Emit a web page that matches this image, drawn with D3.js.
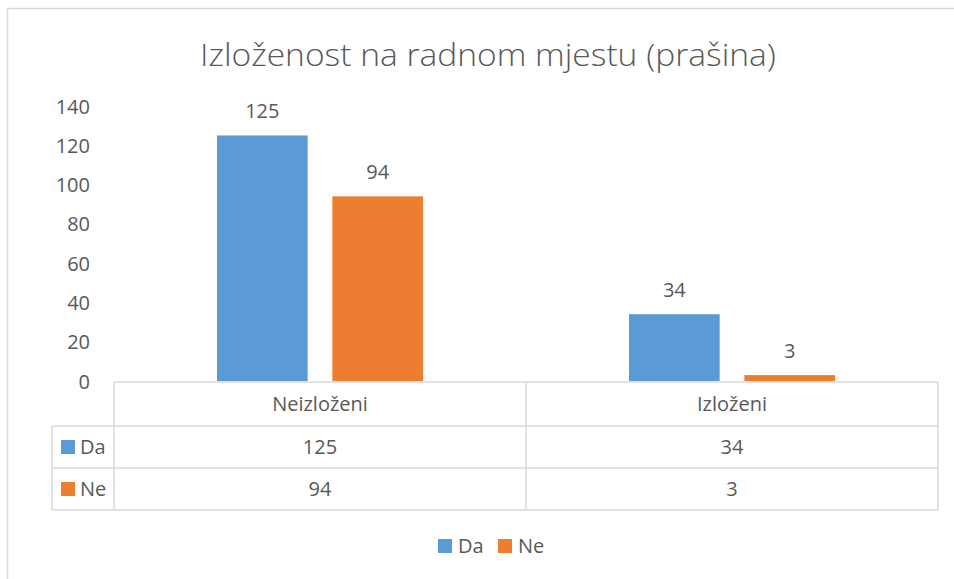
<!DOCTYPE html>
<html>
<head>
<meta charset="utf-8">
<script src="https://cdn.jsdelivr.net/npm/d3@7"></script>
<style>
	body { margin: 0; background: #fff; }
	svg text { font-family: "Open Sans", "Liberation Sans", sans-serif; fill: #595959; }
</style>
</head>
<body>
<svg id="canvas" width="954" height="579"></svg>
<script>
var categories = ["Neizloženi", "Izloženi"];
var seriesNames = ["Da", "Ne"];
var daValues = [125, 34];
var neValues = [94, 3];
var yTicks = [0, 20, 40, 60, 80, 100, 120, 140];
var colors = ["#5B9BD5", "#ED7D31"];

function draw(){
	var svg = d3.select("#canvas");
	var series = [daValues, neValues];
	var fs = 20;

	// chart frame (only left and top edges are visible in the picture)
	svg.append("path")
		.attr("d", "M7.5,600 L7.5,8.5 L960,8.5")
		.attr("fill", "none")
		.attr("stroke", "#D9D9D9")
		.attr("stroke-width", 1.5);

	svg.append("text")
		.attr("x", 488)
		.attr("y", 66)
		.attr("text-anchor", "middle")
		.attr("font-size", 31)
		.attr("font-weight", 300)
		.attr("textLength", 576)
		.attr("lengthAdjust", "spacingAndGlyphs")
		.text("Izloženost na radnom mjestu (prašina)");

	var left = 114, right = 938, top = 106, bottom = 381;

	var x = d3.scaleBand().domain(categories).range([left, right]);
	var inner = x.bandwidth() * 0.5;
	var xs = d3.scaleBand().domain(seriesNames)
		.range([(x.bandwidth() - inner) / 2, (x.bandwidth() + inner) / 2])
		.paddingInner(0.214);
	var y = d3.scaleLinear().domain([0, 140]).range([bottom, top]);

	var yAxis = d3.axisLeft(y).tickValues(yTicks).tickSize(0).tickPadding(0);
	var ag = svg.append("g")
		.attr("transform", "translate(" + 90 + ",0)")
		.call(yAxis);
	ag.select(".domain").remove();
	ag.selectAll("text")
		.attr("font-size", fs)
		.attr("fill", "#595959")
		.attr("font-family", null)
		.attr("dy", "0.35em");

	// bars
	series.forEach(function(vals, s){
		var g = svg.append("g");
		g.selectAll("rect")
			.data(vals)
			.enter()
			.append("rect")
			.attr("x", function(d, i){ return x(categories[i]) + xs(seriesNames[s]); })
			.attr("y", function(d){ return y(d); })
			.attr("width", xs.bandwidth())
			.attr("height", function(d){ return bottom - y(d); })
			.attr("fill", colors[s]);
		g.selectAll("text")
			.data(vals)
			.enter()
			.append("text")
			.attr("x", function(d, i){ return x(categories[i]) + xs(seriesNames[s]) + xs.bandwidth() / 2; })
			.attr("y", function(d){ return y(d) - 17; })
			.attr("text-anchor", "middle")
			.attr("font-size", fs)
			.attr("fill", "#404040")
			.text(function(d){ return d; });
	});

	// data table
	var line = "#D9D9D9";
	var rowTop = [382, 426, 468, 510];
	var tbl = svg.append("g").attr("stroke", line).attr("stroke-width", 1.5).attr("fill", "none");
	tbl.append("line").attr("x1", left).attr("x2", right).attr("y1", rowTop[0]).attr("y2", rowTop[0]);
	for (var r = 1; r < rowTop.length; r++){
		tbl.append("line").attr("x1", 52).attr("x2", right).attr("y1", rowTop[r]).attr("y2", rowTop[r]);
	}
	tbl.append("line").attr("x1", 52).attr("x2", 52).attr("y1", rowTop[1]).attr("y2", rowTop[3]);
	var vx = [left].concat(categories.map(function(c){ return x(c) + x.bandwidth(); }));
	vx.forEach(function(v){
		tbl.append("line").attr("x1", v).attr("x2", v).attr("y1", rowTop[0]).attr("y2", rowTop[3]);
	});

	svg.selectAll(".cat")
		.data(categories)
		.enter()
		.append("text")
		.attr("class", "cat")
		.attr("x", function(d){ return x(d) + x.bandwidth() / 2; })
		.attr("y", 404)
		.attr("dy", "0.35em")
		.attr("text-anchor", "middle")
		.attr("font-size", fs)
		.text(function(d){ return d; });

	series.forEach(function(vals, s){
		var cy = (rowTop[s + 1] + rowTop[s + 2]) / 2;
		svg.append("rect")
			.attr("x", 61).attr("y", cy - 7).attr("width", 14).attr("height", 14)
			.attr("fill", colors[s]);
		svg.append("text")
			.attr("x", 80).attr("y", cy).attr("dy", "0.35em")
			.attr("font-size", fs)
			.text(seriesNames[s]);
		svg.selectAll(".cell" + s)
			.data(vals)
			.enter()
			.append("text")
			.attr("x", function(d, i){ return x(categories[i]) + x.bandwidth() / 2; })
			.attr("y", cy).attr("dy", "0.35em")
			.attr("text-anchor", "middle")
			.attr("font-size", fs)
			.text(function(d){ return d; });
	});

	// legend
	var legendX = [438, 498];
	var lg = svg.append("g");
	seriesNames.forEach(function(name, i){
		lg.append("rect")
			.attr("x", legendX[i]).attr("y", 539).attr("width", 14).attr("height", 14)
			.attr("fill", colors[i]);
		lg.append("text")
			.attr("x", legendX[i] + 20).attr("y", 546).attr("dy", "0.35em")
			.attr("font-size", fs)
			.text(name);
	});
}

draw();
</script>
</body>
</html>
